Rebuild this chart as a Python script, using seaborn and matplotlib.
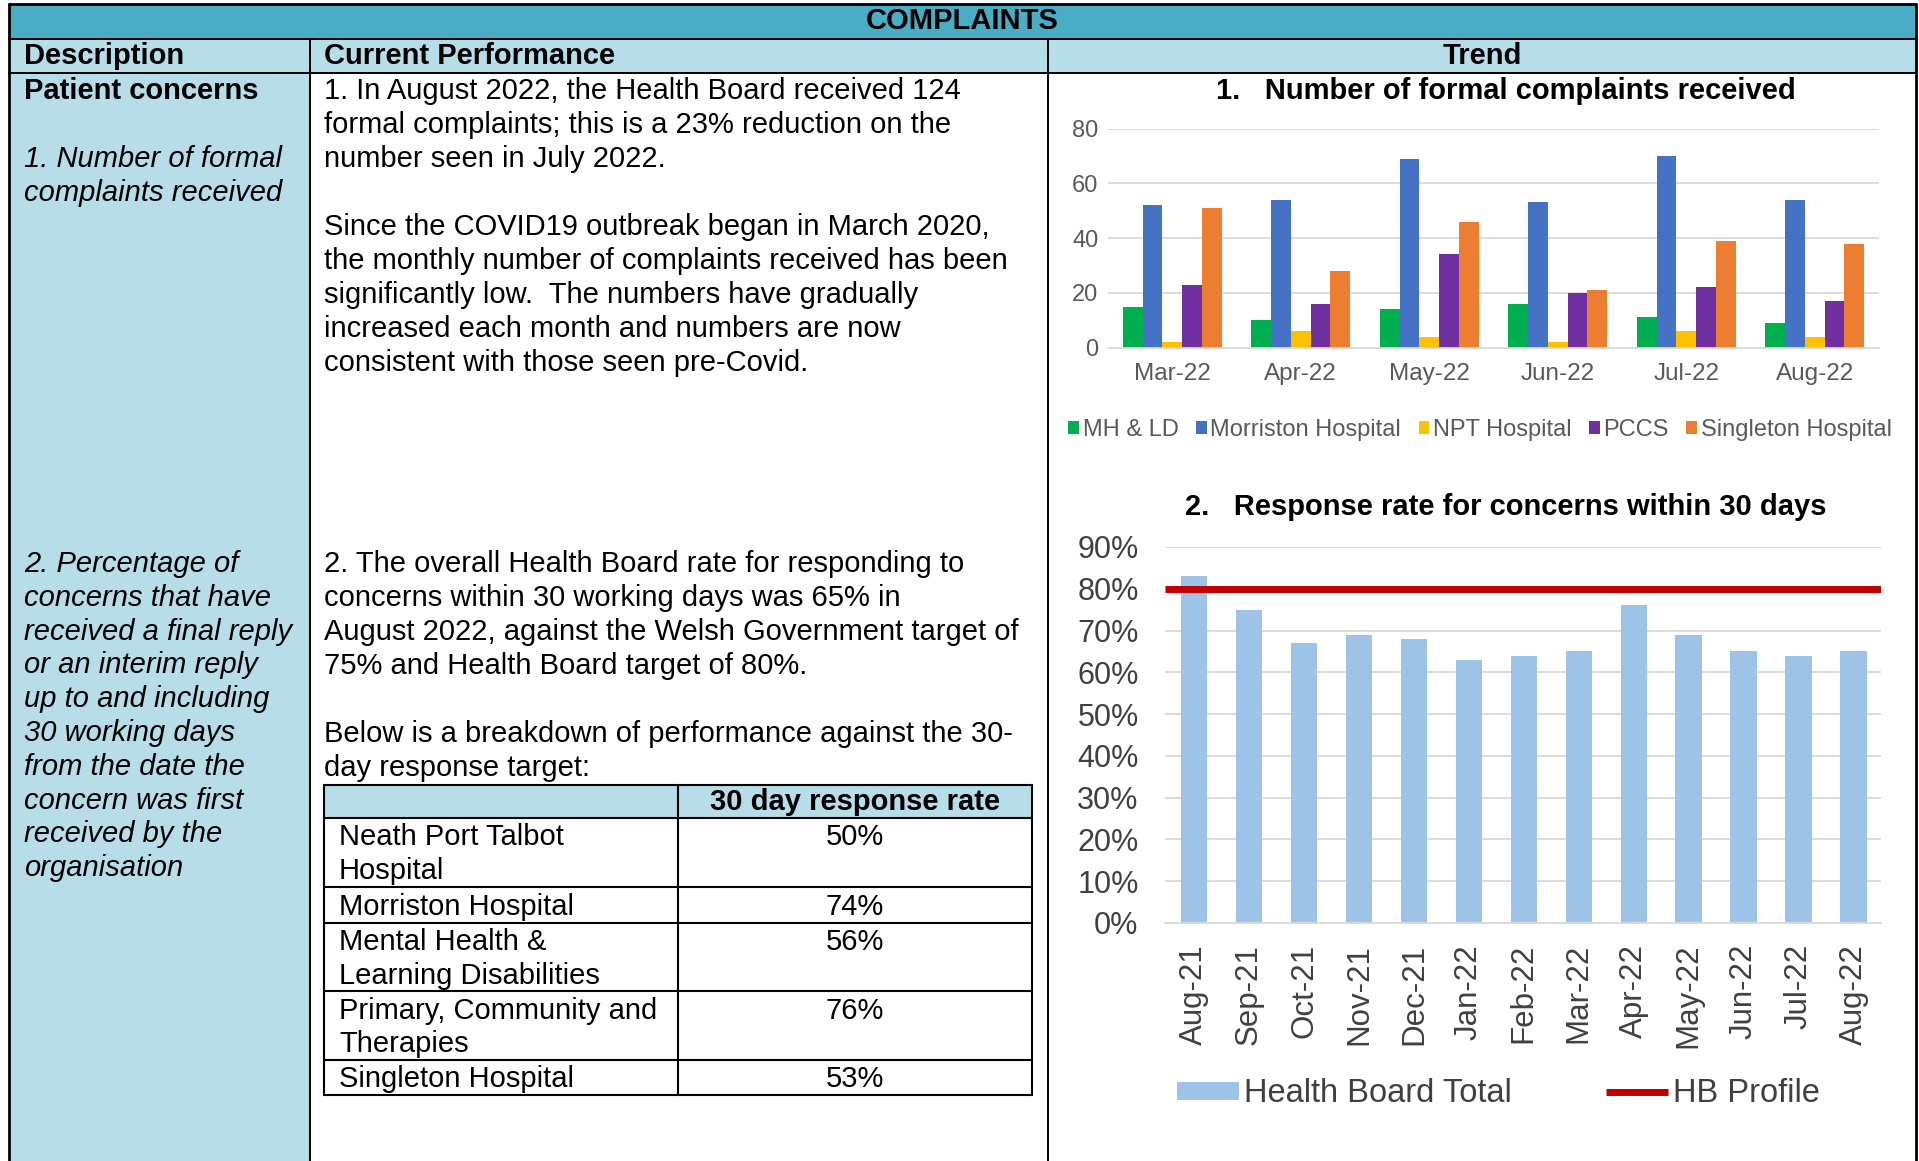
import numpy as np
import pandas as pd
import matplotlib
matplotlib.use("Agg")
import matplotlib.pyplot as plt
from matplotlib.patches import Rectangle
from matplotlib.ticker import PercentFormatter
import seaborn as sns

# ---------------- data ----------------
months_top = ["Mar-22", "Apr-22", "May-22", "Jun-22", "Jul-22", "Aug-22"]
sites = ["MH & LD", "Morriston Hospital", "NPT Hospital", "PCCS", "Singleton Hospital"]
mh_ld = [15, 10, 14, 16, 11, 9]
morriston = [52, 54, 69, 53, 70, 54]
npt = [2, 6, 4, 2, 6, 4]
pccs = [23, 16, 34, 20, 22, 17]
singleton = [51, 28, 46, 21, 39, 38]
site_colors = ["#00B050", "#4472C4", "#FFC000", "#7030A0", "#ED7D31"]

months_resp = ["Aug-21", "Sep-21", "Oct-21", "Nov-21", "Dec-21", "Jan-22", "Feb-22",
               "Mar-22", "Apr-22", "May-22", "Jun-22", "Jul-22", "Aug-22"]
resp_rate = [0.83, 0.75, 0.67, 0.69, 0.68, 0.63, 0.64, 0.65, 0.76, 0.69, 0.65, 0.64, 0.65]
hb_profile = 0.80

table_sites = ["Neath Port Talbot\nHospital", "Morriston Hospital", "Mental Health &\nLearning Disabilities",
               "Primary, Community and\nTherapies", "Singleton Hospital"]
table_rates = ["50%", "74%", "56%", "76%", "53%"]

desc_lines_1 = ["1. Number of formal", "complaints received"]
desc_lines_2 = ["2. Percentage of", "concerns that have", "received a final reply", "or an interim reply",
                "up to and including", "30 working days", "from the date the", "concern was first",
                "received by the", "organisation"]
perf_lines_1 = ["1. In August 2022, the Health Board received 124",
                "formal complaints; this is a 23% reduction on the",
                "number seen in July 2022.",
                "",
                "Since the COVID19 outbreak began in March 2020,",
                "the monthly number of complaints received has been",
                "significantly low.  The numbers have gradually",
                "increased each month and numbers are now",
                "consistent with those seen pre-Covid."]
perf_lines_2 = ["2. The overall Health Board rate for responding to",
                "concerns within 30 working days was 65% in",
                "August 2022, against the Welsh Government target of",
                "75% and Health Board target of 80%.",
                "",
                "Below is a breakdown of performance against the 30-",
                "day response target:"]

# ---------------- style ----------------
sns.set_style("white")
plt.rcParams["font.family"] = ["Liberation Sans", "DejaVu Sans"]
plt.rcParams["text.color"] = "black"

W, H = 1919, 1161
fig = plt.figure(figsize=(W / 100, H / 100), dpi=100, facecolor="white")

bg = fig.add_axes([0, 0, 1, 1], zorder=0)
bg.set_xlim(0, W)
bg.set_ylim(H, 0)
bg.axis("off")

TEAL = "#4BACC6"
LBLUE = "#B7DDE8"
FS = 21

L, R, T = 8.5, 1916, 4
C1, C2 = 310, 1048
Y1, Y2 = 39, 73

# backgrounds
bg.add_patch(Rectangle((L, T), R - L, Y1 - T, facecolor=TEAL, edgecolor="none"))
bg.add_patch(Rectangle((L, Y1), R - L, Y2 - Y1, facecolor=LBLUE, edgecolor="none"))
bg.add_patch(Rectangle((L, Y2), C1 - L, H - Y2, facecolor=LBLUE, edgecolor="none"))

# grid lines of document table
lw_out = 2.0
lw_in = 1.4
bg.plot([L, R], [T, T], color="black", lw=lw_out)
bg.plot([L, L], [T, H], color="black", lw=lw_out)
bg.plot([R, R], [T, H], color="black", lw=lw_out)
bg.plot([L, R], [Y1, Y1], color="black", lw=lw_in)
bg.plot([L, R], [Y2, Y2], color="black", lw=lw_in)
bg.plot([C1, C1], [Y1, H], color="black", lw=lw_in)
bg.plot([C2, C2], [Y1, H], color="black", lw=lw_in)

# header texts
bg.text((L + R) / 2, 21, "COMPLAINTS", ha="center", va="center", fontsize=FS, fontweight="bold")
bg.text(24, 56, "Description", ha="left", va="center", fontsize=FS, fontweight="bold")
bg.text(324, 56, "Current Performance", ha="left", va="center", fontsize=FS, fontweight="bold")
bg.text((C2 + R) / 2, 56, "Trend", ha="center", va="center", fontsize=FS, fontweight="bold")

# description column
bg.text(24, 91, "Patient concerns", ha="left", va="center", fontsize=FS, fontweight="bold")
LS = 34
for i, s in enumerate(desc_lines_1):
    bg.text(24, 159 + i * LS, s, ha="left", va="center", fontsize=FS, style="italic")
for i, s in enumerate(desc_lines_2):
    bg.text(24, 564 + i * 33.8, s, ha="left", va="center", fontsize=FS, style="italic")

# performance column
for i, s in enumerate(perf_lines_1):
    bg.text(324, 90.6 + i * LS, s, ha="left", va="center", fontsize=FS)
for i, s in enumerate(perf_lines_2):
    bg.text(324, 564.2 + i * LS, s, ha="left", va="center", fontsize=FS)

# breakdown table
tx0, tx1, tx2 = 324, 678, 1032
row_edges = [784.5, 817.6, 887.3, 922.8, 991.4, 1059.9, 1095.4]
bg.add_patch(Rectangle((tx0, row_edges[0]), tx2 - tx0, row_edges[1] - row_edges[0],
                       facecolor=LBLUE, edgecolor="none"))
for y in row_edges:
    bg.plot([tx0, tx2], [y, y], color="black", lw=1.5)
for x in (tx0, tx1, tx2):
    bg.plot([x, x], [row_edges[0], row_edges[-1]], color="black", lw=1.5)
bg.text((tx1 + tx2) / 2, 801.5, "30 day response rate", ha="center", va="center",
        fontsize=FS, fontweight="bold")
for k, (site, rate) in enumerate(zip(table_sites, table_rates)):
    y0 = row_edges[k + 1] + 19.5
    for j, line in enumerate(site.split("\n")):
        bg.text(339, y0 + j * 33.5, line, ha="left", va="center", fontsize=FS)
    bg.text((tx1 + tx2) / 2, y0, rate, ha="center", va="center", fontsize=FS)

# chart titles
bg.text(1506, 90.6, "1.   Number of formal complaints received", ha="center", va="center",
        fontsize=FS, fontweight="bold")
bg.text(1506, 506.7, "2.   Response rate for concerns within 30 days", ha="center", va="center",
        fontsize=FS, fontweight="bold")


def px_rect(x0, y0, x1, y1):
    return [x0 / W, 1 - y1 / H, (x1 - x0) / W, (y1 - y0) / H]


# ---------------- chart 1 ----------------
df1 = pd.DataFrame({
    "Month": np.repeat(months_top, len(sites)),
    "Site": sites * len(months_top),
    "Count": np.column_stack([mh_ld, morriston, npt, pccs, singleton]).ravel(),
})
ax1 = fig.add_axes(px_rect(1108, 128.5, 1879, 347.6), zorder=1)
ax1.set_facecolor("none")
sns.barplot(data=df1, x="Month", y="Count", hue="Site", hue_order=sites,
            palette=dict(zip(sites, site_colors)), saturation=1, width=0.77,
            edgecolor="none", ax=ax1)
ax1.set_xlim(-0.5, 5.5)
ax1.set_ylim(0, 80)
ax1.set_yticks([0, 20, 40, 60, 80])
ax1.set_xlabel("")
ax1.set_ylabel("")
ax1.yaxis.grid(True, color="#D9D9D9", lw=1.3)
ax1.set_axisbelow(True)
for sp in ("left", "top", "right"):
    ax1.spines[sp].set_visible(False)
ax1.spines["bottom"].set_color("#D9D9D9")
ax1.spines["bottom"].set_linewidth(1.3)
ax1.tick_params(axis="y", length=0, pad=7, labelsize=17, labelcolor="#595959")
ax1.tick_params(axis="x", which="major", length=0, pad=11, labelsize=17.5, labelcolor="#595959")
ax1.set_xticks(np.arange(-0.5, 6, 1), minor=True)
ax1.tick_params(axis="x", which="minor", length=5, color="#D9D9D9", width=1.3)
h1, l1 = ax1.get_legend_handles_labels()
if ax1.get_legend() is not None:
    ax1.get_legend().remove()
fig.legend(h1, l1, loc="center", bbox_to_anchor=(1480 / W, 1 - 429.6 / H), ncol=5,
           frameon=False, fontsize=17, handlelength=0.45, handleheight=0.45,
           handletextpad=0.15, columnspacing=0.75, borderpad=0, labelcolor="#595959")

# ---------------- chart 2 ----------------
ax2 = fig.add_axes(px_rect(1165, 547, 1881, 923), zorder=1)
ax2.set_facecolor("none")
sns.barplot(x=months_resp, y=resp_rate, color="#9DC3E6", saturation=1, width=0.48,
            edgecolor="none", label="Health Board Total", ax=ax2)
ax2.axhline(hb_profile, color="#C00000", lw=5, label="HB Profile", solid_capstyle="butt")
ax2.set_xlim(-0.53, 12.5)
ax2.set_ylim(0, 0.9)
ax2.set_yticks(np.arange(0, 0.91, 0.1))
ax2.yaxis.set_major_formatter(PercentFormatter(xmax=1, decimals=0))
ax2.yaxis.grid(True, color="#D9D9D9", lw=1.3)
ax2.set_axisbelow(True)
for sp in ("left", "top", "right"):
    ax2.spines[sp].set_visible(False)
ax2.spines["bottom"].set_color("#D9D9D9")
ax2.spines["bottom"].set_linewidth(1.3)
ax2.tick_params(axis="y", length=0, pad=19, labelsize=22, labelcolor="#404040")
ax2.tick_params(axis="x", length=0, pad=15, labelsize=22.5, labelcolor="#404040", rotation=90)
h2, l2 = ax2.get_legend_handles_labels()
if ax2.get_legend() is not None:
    ax2.get_legend().remove()
order = sorted(range(len(l2)), key=lambda i: 0 if l2[i] == "Health Board Total" else 1)
h2 = [h2[i] for i in order]
l2 = [l2[i] for i in order]
fig.legend(h2, l2, loc="center left", bbox_to_anchor=(1177 / W, 1 - 1094 / H), ncol=2,
           frameon=False, fontsize=23.5, handlelength=1.9, handleheight=0.5,
           handletextpad=0.15, columnspacing=2.9, borderpad=0, borderaxespad=0,
           labelcolor="#404040")

fig.savefig("out.png", dpi=100)
